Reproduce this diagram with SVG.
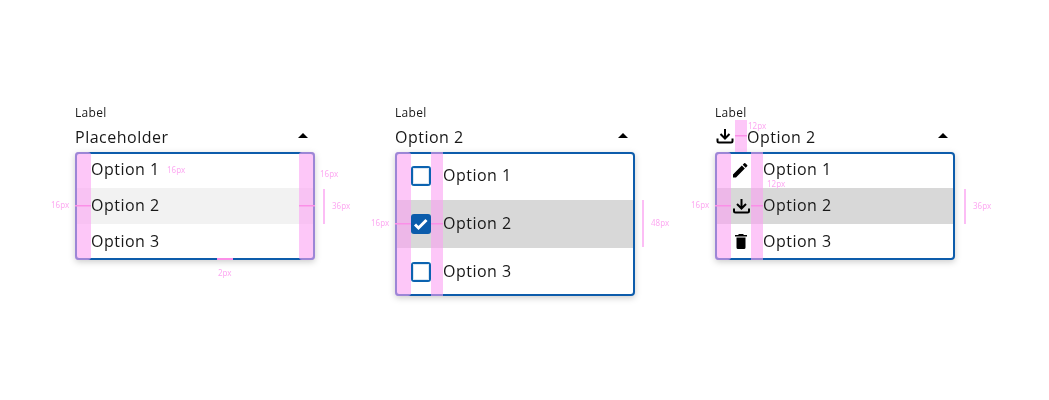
<svg xmlns="http://www.w3.org/2000/svg" width="1049" height="400" viewBox="0 0 1049 400">
<defs>
<filter id="sh" x="-10%" y="-15%" width="120%" height="135%"><feDropShadow dx="0" dy="2" stdDeviation="3" flood-color="#000" flood-opacity="0.2"/></filter>
<path id="caret" d="M0 5L5 0L10 5Z" fill="#000"/>
<g id="dl"><path d="M0 0V9.500M-4.500 5L0 9.500L4.500 5" fill="none" stroke="#000" stroke-width="2"/><path d="M-7.500 9.500V12a1.500 1.500 0 0 0 1.500 1.500H6A1.500 1.500 0 0 0 7.500 12V9.500" fill="none" stroke="#000" stroke-width="2"/></g>
<g id="cb"><rect x="1" y="1" width="18" height="18" rx="2" fill="#fff" stroke="#0b63b0" stroke-width="2"/><rect x="2.500" y="2.500" width="15" height="15" fill="none" stroke="#dbe7f3" stroke-width="1"/></g>
</defs>
<style>
text{font-family:"Open Sans","Noto Sans",sans-serif;fill:#161616;opacity:.99}
.lb{font-size:12px;letter-spacing:.32px}
.t{font-size:16px;letter-spacing:.5px}
.m{font-family:"Noto Sans","Open Sans",sans-serif;font-size:8px;fill:#fda8f2}
.box{fill:#fff;stroke:#0b5cab;stroke-width:2;filter:url(#sh)}
.p{fill:#fca1f4;fill-opacity:.6}
.l{fill:#fb8fe8}
.v{fill:#fcbdf5}
</style>
<rect width="1049" height="400" fill="#fff"/>

<g id="dropdown-1">
<text class="lb" x="75" y="117">Label</text>
<text class="t" x="75" y="143">Placeholder</text>
<use href="#caret" x="298" y="133"/>
<rect class="box" x="76" y="153" width="238" height="106" rx="3"/>
<rect x="77" y="188" width="236" height="36" fill="#f2f2f2"/>
<text class="t" x="91" y="175">Option 1</text>
<text class="t" x="91" y="211">Option 2</text>
<text class="t" x="91" y="247">Option 3</text>
<rect class="p" x="75" y="152" width="16" height="108" rx="3"/>
<rect class="p" x="299" y="152" width="16" height="108" rx="3"/>
<rect class="l" x="75" y="205" width="16" height="1.500"/>
<rect class="l" x="299" y="205" width="16" height="1.500"/>
<rect class="l" x="217" y="258" width="16" height="2"/>
<rect class="v" x="323" y="189" width="2" height="35"/>
<text class="m" x="167" y="173">16px</text>
<text class="m" x="320" y="177">16px</text>
<text class="m" x="51" y="208">16px</text>
<text class="m" x="332" y="209">36px</text>
<text class="m" x="218" y="276">2px</text>
</g>

<g id="dropdown-2">
<text class="lb" x="395" y="117">Label</text>
<text class="t" x="395" y="143">Option 2</text>
<use href="#caret" x="618" y="133"/>
<rect class="box" x="396" y="153" width="238" height="142" rx="3"/>
<rect x="397" y="200" width="236" height="48" fill="#d8d8d8"/>
<use href="#cb" x="411" y="166"/>
<rect x="411" y="214" width="20" height="20" rx="3" fill="#0b5cab"/>
<path d="M415 224.500l3.500 3.500 8-8" fill="none" stroke="#fff" stroke-width="3"/>
<use href="#cb" x="411" y="262"/>
<text class="t" x="443" y="181">Option 1</text>
<text class="t" x="443" y="229">Option 2</text>
<text class="t" x="443" y="277">Option 3</text>
<rect class="p" x="395" y="152" width="16" height="144" rx="3"/>
<rect class="p" x="431" y="152" width="12" height="144"/>
<rect class="l" x="395" y="223" width="16" height="1.500"/>
<rect class="l" x="431" y="223" width="12" height="1.500"/>
<rect class="v" x="642" y="200" width="2" height="47"/>
<text class="m" x="371" y="226">16px</text>
<text class="m" x="651" y="226">48px</text>
</g>

<g id="dropdown-3">
<text class="lb" x="715" y="117">Label</text>
<use href="#dl" x="725" y="129"/>
<text class="t" x="747" y="143">Option 2</text>
<use href="#caret" x="938" y="133"/>
<rect class="box" x="716" y="153" width="238" height="106" rx="3"/>
<rect x="717" y="188" width="236" height="36" fill="#d8d8d8"/>
<path transform="translate(730.600 160.600) scale(.8)" d="M3 17.250V21h3.750L17.810 9.940l-3.750-3.750L3 17.250zM20.710 7.040a1 1 0 0 0 0-1.410l-2.340-2.340a1 1 0 0 0-1.410 0l-1.830 1.830 3.750 3.750 1.830-1.830z"/>
<use href="#dl" x="741.500" y="199"/>
<path d="M736.500 237.500h9v10a1.500 1.500 0 0 1-1.500 1.500h-6a1.500 1.500 0 0 1-1.500-1.500zM747 235h-3l-1-1h-4l-1 1h-3v1.500h12z"/>
<text class="t" x="763" y="175">Option 1</text>
<text class="t" x="763" y="211">Option 2</text>
<text class="t" x="763" y="247">Option 3</text>
<rect class="p" x="715" y="152" width="16" height="108" rx="3"/>
<rect class="p" x="751" y="152" width="12" height="108"/>
<rect class="p" x="735" y="120" width="12" height="32"/>
<rect class="l" x="715" y="205" width="16" height="1.500"/>
<rect class="l" x="751" y="205" width="12" height="1.500"/>
<rect class="l" x="735" y="135" width="12" height="1.500"/>
<rect class="v" x="964" y="189" width="2" height="35"/>
<text class="m" x="748" y="129">12px</text>
<text class="m" x="767" y="187">12px</text>
<text class="m" x="691" y="208">16px</text>
<text class="m" x="973" y="209">36px</text>
</g>
</svg>
